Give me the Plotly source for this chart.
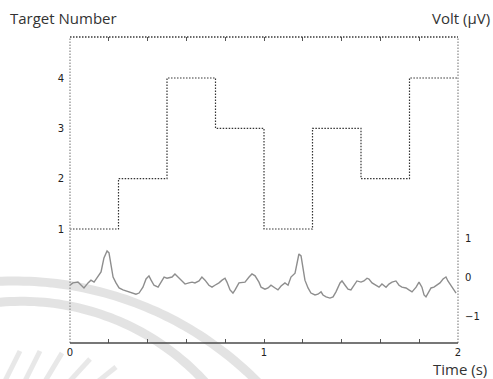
import numpy as np
import plotly.graph_objects as go

# Target number shown in each 0.25 s epoch (step drawn with hv shape)
epoch_starts = [0.0, 0.25, 0.5, 0.75, 1.0, 1.25, 1.5, 1.75, 2.0]
target_numbers = [1, 2, 4, 3, 1, 3, 2, 4, 4]

# Recorded EEG voltage (µV) against time (s)
time_s = [0.000, 0.015, 0.041, 0.057, 0.072, 0.093, 0.108, 0.124, 0.144, 0.160,
          0.175, 0.191, 0.201, 0.211, 0.222, 0.237, 0.253, 0.273, 0.289, 0.304,
          0.325, 0.340, 0.356, 0.376, 0.392, 0.407, 0.418, 0.433, 0.454, 0.469,
          0.485, 0.500, 0.526, 0.541, 0.562, 0.577, 0.593, 0.613, 0.629, 0.644,
          0.665, 0.680, 0.696, 0.716, 0.732, 0.747, 0.768, 0.784, 0.799, 0.809,
          0.825, 0.840, 0.851, 0.871, 0.887, 0.902, 0.923, 0.938, 0.954, 0.974,
          0.985, 1.005, 1.021, 1.036, 1.057, 1.072, 1.088, 1.108, 1.124, 1.139,
          1.160, 1.170, 1.180, 1.191, 1.201, 1.211, 1.227, 1.242, 1.263, 1.278,
          1.294, 1.304, 1.320, 1.340, 1.356, 1.371, 1.392, 1.402, 1.418, 1.433,
          1.448, 1.469, 1.479, 1.500, 1.515, 1.531, 1.541, 1.557, 1.577, 1.593,
          1.608, 1.629, 1.644, 1.660, 1.680, 1.696, 1.711, 1.732, 1.747, 1.763,
          1.784, 1.799, 1.814, 1.825, 1.835, 1.845, 1.861, 1.876, 1.892, 1.907,
          1.923, 1.938, 1.948, 1.964, 1.979, 1.990]
volt_uv = [-0.21, -0.15, -0.13, -0.21, -0.28, -0.15, -0.08, -0.13, 0.00, 0.13,
           0.49, 0.67, 0.62, 0.31, 0.00, -0.15, -0.28, -0.33, -0.36, -0.38,
           -0.41, -0.44, -0.41, -0.26, -0.05, 0.03, -0.08, -0.21, -0.26, -0.13,
           0.00, -0.03, 0.00, 0.08, -0.03, -0.10, -0.18, -0.15, -0.13, -0.15,
           -0.10, 0.00, -0.08, -0.21, -0.26, -0.21, -0.15, -0.08, -0.03, -0.13,
           -0.33, -0.41, -0.33, -0.15, -0.13, -0.13, 0.00, 0.08, 0.03, -0.13,
           -0.26, -0.31, -0.28, -0.21, -0.28, -0.33, -0.23, -0.15, -0.21, 0.00,
           0.10, 0.36, 0.59, 0.54, 0.18, -0.08, -0.28, -0.41, -0.46, -0.44,
           -0.38, -0.46, -0.51, -0.54, -0.51, -0.38, -0.15, -0.10, -0.21, -0.31,
           -0.33, -0.15, -0.10, -0.13, -0.10, -0.03, -0.05, -0.15, -0.21, -0.26,
           -0.18, -0.26, -0.18, -0.13, -0.10, -0.21, -0.26, -0.28, -0.33, -0.38,
           -0.26, -0.13, -0.26, -0.46, -0.51, -0.41, -0.28, -0.26, -0.21, -0.15,
           -0.05, 0.00, -0.10, -0.21, -0.33, -0.41]

# Tick labels
time_ticks = [0, 1, 2]
target_ticks = [1, 2, 3, 4]
volt_ticks = [-1, 0, 1]

W, H = 493, 379
M_L, M_R, M_T, M_B = 70, 35, 37, 36
PW, PH = W - M_L - M_R, H - M_T - M_B

FINE_DOT = "1.5px,1.5px"

fig = go.Figure()

fig.add_trace(go.Scatter(
    x=epoch_starts, y=target_numbers, mode="lines", line_shape="hv",
    line=dict(color="#333333", width=1.2, dash=FINE_DOT),
    yaxis="y", showlegend=False, hoverinfo="skip"))

fig.add_trace(go.Scatter(
    x=time_s, y=volt_uv, mode="lines",
    line=dict(color="#8e8e8e", width=1.4),
    yaxis="y2", showlegend=False, hoverinfo="skip"))

tick_font = dict(family="DejaVu Sans", size=10, color="#222222")

fig.update_layout(
    width=W, height=H,
    margin=dict(l=M_L, r=M_R, t=M_T, b=M_B, pad=0),
    paper_bgcolor="white", plot_bgcolor="white",
    xaxis=dict(range=[0, 2], tickmode="linear", tick0=time_ticks[0],
               dtick=time_ticks[1] - time_ticks[0],
               ticks="inside", ticklen=4,
               tickwidth=1, tickcolor="#555555", mirror="ticks",
               minor=dict(dtick=0.2, ticks="inside", ticklen=4,
                          tickwidth=1, tickcolor="#555555"),
               showline=False, showgrid=False, zeroline=False,
               tickfont=tick_font, ticklabelstandoff=2),
    yaxis=dict(range=[-1.265, 4.815], tickvals=target_ticks, ticks="",
               showline=False, showgrid=False, zeroline=False,
               tickfont=tick_font, ticklabelstandoff=5),
    yaxis2=dict(range=[-1.69, 6.15], tickvals=volt_ticks, ticks="",
                overlaying="y", side="right",
                showline=False, showgrid=False, zeroline=False,
                tickfont=tick_font, ticklabelstandoff=6),
)

# Frame: dotted top and sides, solid time axis at the bottom
frame = [
    dict(x0=0, x1=1, y0=1, y1=1, color="#3a3a3a", dash=FINE_DOT, width=1.5),
    dict(x0=0, x1=0, y0=0, y1=1, color="#a0a0a0", dash=FINE_DOT, width=1.5),
    dict(x0=1, x1=1, y0=0, y1=1, color="#a0a0a0", dash=FINE_DOT, width=1.5),
    dict(x0=0, x1=1, y0=0, y1=0, color="#4a4a4a", dash="solid", width=1.6),
]
for f in frame:
    fig.add_shape(type="line", xref="paper", yref="paper",
                  x0=f["x0"], x1=f["x1"], y0=f["y0"], y1=f["y1"],
                  line=dict(color=f["color"], width=f["width"], dash=f["dash"]))


def to_paper(px, py):
    return (px - M_L) / PW, (M_B + PH - py) / PH


def arc_path(cx, cy, r, a0, a1, n=60):
    pts = []
    for a in np.linspace(a0, a1, n):
        px = cx + r * np.cos(a)
        py = cy - r * np.sin(a)
        pts.append(to_paper(px, py))
    return "M " + " L ".join(f"{x:.4f},{y:.4f}" for x, y in pts)


# Faint logo watermark in the lower-left corner
mark_color = "rgba(200,200,200,0.5)"
fig.add_shape(type="path", xref="paper", yref="paper", layer="below",
              path=arc_path(15, 622, 342, np.radians(94), np.radians(40)),
              line=dict(color=mark_color, width=9))
fig.add_shape(type="path", xref="paper", yref="paper", layer="below",
              path=arc_path(21.6, 549, 248.7, np.radians(96), np.radians(30)),
              line=dict(color=mark_color, width=9))
for (ax0, ay0, ax1, ay1) in [(4, 382, 20, 350), (24, 382, 40, 350),
                             (44, 382, 62, 352), (68, 382, 90, 358),
                             (96, 382, 116, 366)]:
    (x0, y0), (x1, y1) = to_paper(ax0, ay0), to_paper(ax1, ay1)
    fig.add_shape(type="line", xref="paper", yref="paper", layer="below",
                  x0=x0, y0=y0, x1=x1, y1=y1,
                  line=dict(color="rgba(205,205,205,0.45)", width=5))

label_font = dict(family="Open Sans", size=15, color="#333333")
fig.add_annotation(text="Target Number", xref="paper", yref="paper",
                   x=to_paper(8, 0)[0], y=to_paper(0, 17)[1],
                   xanchor="left", yanchor="middle", showarrow=False,
                   font=label_font)
fig.add_annotation(text="Volt (µV)", xref="paper", yref="paper",
                   x=to_paper(492, 0)[0], y=to_paper(0, 17)[1],
                   xanchor="right", yanchor="middle", showarrow=False,
                   font=label_font)
fig.add_annotation(text="Time (s)", xref="paper", yref="paper",
                   x=to_paper(489, 0)[0], y=to_paper(0, 368)[1],
                   xanchor="right", yanchor="middle", showarrow=False,
                   font=label_font)

fig.write_html("out.html")
